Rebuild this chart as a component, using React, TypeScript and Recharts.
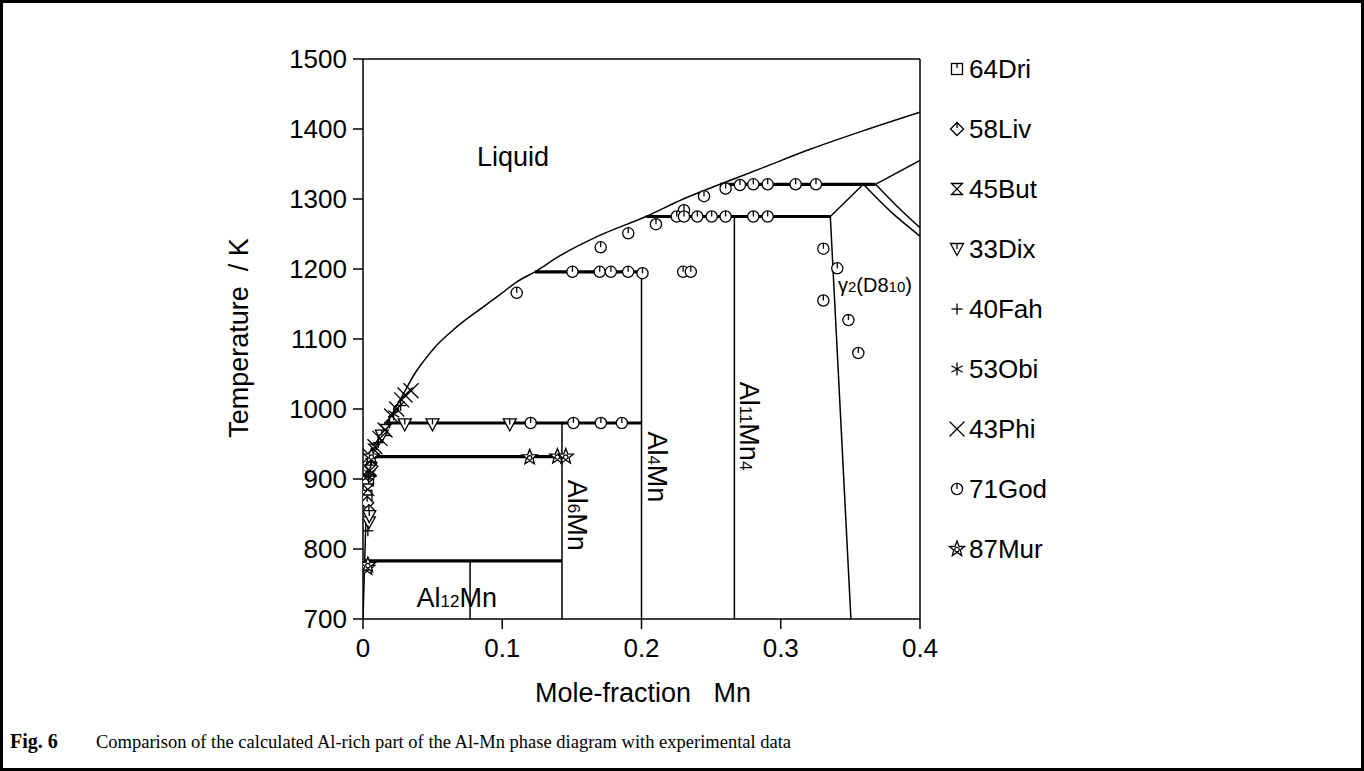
import React from 'react'
import { ComposedChart, Line, Scatter, XAxis, YAxis, ReferenceDot } from 'recharts'

const FONT = '"Liberation Sans", Arial, Helvetica, sans-serif'
const SERIF = '"Liberation Serif", "Times New Roman", serif'

const xTicks = [0, 0.1, 0.2, 0.3, 0.4]
const yTicks = [700, 800, 900, 1000, 1100, 1200, 1300, 1400, 1500]

// calculated phase boundaries (x = mole fraction Mn, t = K)
const liquidus = [
  { x: 0.0036, t: 931 }, { x: 0.0182, t: 983 }, { x: 0.0302, t: 1026 },
  { x: 0.037, t: 1050 }, { x: 0.0434, t: 1068 }, { x: 0.052, t: 1089 },
  { x: 0.0625, t: 1109 }, { x: 0.074, t: 1128 }, { x: 0.0864, t: 1146 },
  { x: 0.1, t: 1166 }, { x: 0.11, t: 1181 }, { x: 0.1235, t: 1196 },
  { x: 0.1415, t: 1219 }, { x: 0.17, t: 1248 }, { x: 0.2032, t: 1275 },
  { x: 0.23, t: 1300 }, { x: 0.2564, t: 1321 }, { x: 0.285, t: 1343 },
  { x: 0.321, t: 1371 }, { x: 0.36, t: 1398 }, { x: 0.4, t: 1424 },
]
const alSolvus = [{ x: 0, t: 700 }, { x: 0.0012, t: 783 }, { x: 0.0035, t: 932 }]
const al12MnLine = [{ x: 0.0769, t: 700 }, { x: 0.0769, t: 783 }]
const al6MnLine = [{ x: 0.1429, t: 700 }, { x: 0.1429, t: 980 }]
const al4MnLine = [{ x: 0.2, t: 700 }, { x: 0.2, t: 1196 }]
const al11Mn4Line = [{ x: 0.2667, t: 700 }, { x: 0.2667, t: 1275 }]
const gamma2Left = [{ x: 0.3504, t: 700 }, { x: 0.3356, t: 1275 }, { x: 0.3593, t: 1321 }]
const gamma2Right = [{ x: 0.3593, t: 1321 }, { x: 0.3784, t: 1283 }, { x: 0.4, t: 1247 }]
const highPhaseLeft = [{ x: 0.368, t: 1321 }, { x: 0.3833, t: 1290 }, { x: 0.4, t: 1259 }]
const highPhaseTop = [{ x: 0.368, t: 1321 }, { x: 0.4, t: 1355 }]

// invariant reactions
const inv783 = [{ x: 0.0012, t: 783 }, { x: 0.1429, t: 783 }]
const inv932 = [{ x: 0.0035, t: 932 }, { x: 0.1429, t: 932 }]
const inv980 = [{ x: 0.0188, t: 980 }, { x: 0.2, t: 980 }]
const inv1196 = [{ x: 0.1235, t: 1196 }, { x: 0.2, t: 1196 }]
const inv1275 = [{ x: 0.2035, t: 1275 }, { x: 0.3356, t: 1275 }]
const inv1321 = [{ x: 0.2564, t: 1321 }, { x: 0.368, t: 1321 }]

// experimental data
const dri64 = [{ x: 0.0025, t: 876 }, { x: 0.0035, t: 898 }]
const liv58 = [{ x: 0.003, t: 866 }, { x: 0.0042, t: 854 }, { x: 0.0048, t: 905 }, { x: 0.006, t: 918 }]
const but45 = [{ x: 0.0035, t: 885 }, { x: 0.005, t: 912 }, { x: 0.008, t: 942 }, { x: 0.016, t: 970 }]
const dix33 = [
  { x: 0.0042, t: 838 }, { x: 0.0045, t: 847 }, { x: 0.0135, t: 962 },
  { x: 0.030, t: 978 }, { x: 0.0499, t: 978 }, { x: 0.1054, t: 978 },
]
const fah40 = [{ x: 0.0035, t: 826 }, { x: 0.006, t: 935 }, { x: 0.011, t: 952 }, { x: 0.019, t: 980 }, { x: 0.027, t: 1005 }]
const obi53 = [{ x: 0.004, t: 903 }, { x: 0.005, t: 908 }, { x: 0.0055, t: 925 }, { x: 0.022, t: 993 }]
const phi43 = [
  { x: 0.005, t: 933 }, { x: 0.0086, t: 946 }, { x: 0.0122, t: 958 },
  { x: 0.0158, t: 970 }, { x: 0.0206, t: 990 }, { x: 0.0242, t: 1000 },
  { x: 0.0278, t: 1013 }, { x: 0.0302, t: 1020 }, { x: 0.0345, t: 1026 },
]
const god71 = [
  { x: 0.1204, t: 980 }, { x: 0.1511, t: 980 }, { x: 0.1708, t: 980 }, { x: 0.1859, t: 980 },
  { x: 0.1104, t: 1166 },
  { x: 0.1504, t: 1196 }, { x: 0.170, t: 1196 }, { x: 0.178, t: 1196 }, { x: 0.1904, t: 1196 },
  { x: 0.2007, t: 1194 }, { x: 0.2299, t: 1196 }, { x: 0.2354, t: 1196 },
  { x: 0.1707, t: 1231 }, { x: 0.1905, t: 1251 }, { x: 0.2104, t: 1264 },
  { x: 0.2305, t: 1284 }, { x: 0.2449, t: 1304 },
  { x: 0.2253, t: 1275 }, { x: 0.2305, t: 1275 }, { x: 0.2401, t: 1275 }, { x: 0.2504, t: 1275 },
  { x: 0.2604, t: 1275 }, { x: 0.2803, t: 1275 }, { x: 0.2906, t: 1275 },
  { x: 0.2604, t: 1315 }, { x: 0.2707, t: 1320 }, { x: 0.2803, t: 1321 }, { x: 0.2906, t: 1321 },
  { x: 0.3107, t: 1321 }, { x: 0.3253, t: 1321 },
  { x: 0.3306, t: 1229 }, { x: 0.3406, t: 1201 }, { x: 0.3306, t: 1155 },
  { x: 0.3486, t: 1127 }, { x: 0.3557, t: 1080 },
]
const mur87 = [
  { x: 0.003, t: 773 }, { x: 0.0035, t: 777 }, { x: 0.006, t: 932 },
  { x: 0.1197, t: 931 }, { x: 0.1396, t: 932 }, { x: 0.1456, t: 932 },
]

const legendNames = ['64Dri', '58Liv', '45But', '33Dix', '40Fah', '53Obi', '43Phi', '71God', '87Mur']
const legendKinds = ['square', 'diamond', 'hourglass', 'triangle', 'plus', 'asterisk', 'cross', 'circle', 'star']

function Marker({ kind, cx, cy }: { kind: string; cx: number; cy: number }) {
  const p = { fill: '#fff', stroke: '#000', strokeWidth: 1.3 }
  const l = { stroke: '#000', strokeWidth: 1.3 }
  switch (kind) {
    case 'square':
      return (
        <g>
          <rect x={cx - 5.5} y={cy - 5.5} width={11} height={11} {...p} />
          <line x1={cx} y1={cy - 5.5} x2={cx} y2={cy - 1} {...l} />
        </g>
      )
    case 'diamond':
      return (
        <g>
          <path d={`M${cx} ${cy - 6.5}L${cx + 6.5} ${cy}L${cx} ${cy + 6.5}L${cx - 6.5} ${cy}Z`} {...p} />
          <line x1={cx} y1={cy - 6.5} x2={cx} y2={cy - 1} {...l} />
        </g>
      )
    case 'hourglass':
      return <path d={`M${cx - 5.5} ${cy - 5.5}H${cx + 5.5}L${cx - 5.5} ${cy + 5.5}H${cx + 5.5}Z`} {...p} />
    case 'triangle':
      return (
        <g>
          <path d={`M${cx - 6.5} ${cy - 5.5}H${cx + 6.5}L${cx} ${cy + 6.5}Z`} {...p} />
          <line x1={cx} y1={cy - 5.5} x2={cx} y2={cy} {...l} />
        </g>
      )
    case 'plus':
      return (
        <g>
          <line x1={cx - 5.5} y1={cy} x2={cx + 5.5} y2={cy} {...l} />
          <line x1={cx} y1={cy - 5.5} x2={cx} y2={cy + 5.5} {...l} />
        </g>
      )
    case 'asterisk':
      return (
        <g>
          <line x1={cx} y1={cy - 6.5} x2={cx} y2={cy + 6.5} {...l} />
          <line x1={cx - 5.6} y1={cy - 3.2} x2={cx + 5.6} y2={cy + 3.2} {...l} />
          <line x1={cx - 5.6} y1={cy + 3.2} x2={cx + 5.6} y2={cy - 3.2} {...l} />
        </g>
      )
    case 'cross':
      return (
        <g>
          <line x1={cx - 7.5} y1={cy - 7.5} x2={cx + 7.5} y2={cy + 7.5} {...l} />
          <line x1={cx - 7.5} y1={cy + 7.5} x2={cx + 7.5} y2={cy - 7.5} {...l} />
        </g>
      )
    case 'circle':
      return (
        <g>
          <circle cx={cx} cy={cy} r={5.6} {...p} />
          <line x1={cx} y1={cy - 5.6} x2={cx} y2={cy} {...l} />
        </g>
      )
    case 'star': {
      const pts: string[] = []
      for (let i = 0; i < 10; i++) {
        const r = i % 2 === 0 ? 8 : 3.4
        const a = -Math.PI / 2 + (i * Math.PI) / 5
        pts.push(`${cx + r * Math.cos(a)},${cy + r * Math.sin(a)}`)
      }
      return (
        <g>
          <polygon points={pts.join(' ')} {...p} />
          <circle cx={cx} cy={cy + 0.5} r={2.2} fill="none" stroke="#000" strokeWidth={1.1} />
        </g>
      )
    }
    default:
      return <g />
  }
}

const thin = { stroke: '#000', strokeWidth: 1.5 }
const thick = { stroke: '#000', strokeWidth: 3.2 }

const boundaryLines: { data: { x: number; t: number }[]; curved?: boolean }[] = [
  { data: liquidus, curved: true },
  { data: alSolvus },
  { data: al12MnLine },
  { data: al6MnLine },
  { data: al4MnLine },
  { data: al11Mn4Line },
  { data: gamma2Left },
  { data: gamma2Right, curved: true },
  { data: highPhaseLeft, curved: true },
  { data: highPhaseTop },
]
const invariantLines = [inv783, inv932, inv980, inv1196, inv1275, inv1321]
const pointSets = [dri64, liv58, but45, dix33, fah40, obi53, phi43, god71, mur87]

function Label({ cx, cy, children, rotate, size = 27 }: any) {
  return (
    <text
      x={cx}
      y={cy}
      fontSize={size}
      fontFamily={FONT}
      fill="#000"
      transform={rotate ? `rotate(90 ${cx} ${cy})` : undefined}
    >
      {children}
    </text>
  )
}

export default function App() {
  const sub = { fontSize: 17 }
  return (
    <div style={{ position: 'absolute', left: 0, top: 0, width: 1364, height: 771, background: '#fff' }}>
      <div style={{ position: 'absolute', left: 0, top: 0 }}>
        <ComposedChart width={1364} height={771} margin={{ top: 39, right: 424, bottom: 112, left: 283 }}>
          <XAxis
            xAxisId={0}
            type="number"
            dataKey="x"
            domain={[0, 0.4]}
            ticks={xTicks}
            allowDataOverflow
            stroke="#000"
            strokeWidth={1.5}
            tickSize={10}
            tickMargin={10}
            height={40}
            tick={{ fontSize: 26, fill: '#000', fontFamily: FONT }}
          />
          <XAxis
            xAxisId="top"
            orientation="top"
            type="number"
            domain={[0, 0.4]}
            ticks={xTicks}
            allowDataOverflow
            stroke="#000"
            strokeWidth={1.5}
            tickSize={10}
            height={20}
            tick={false}
          />
          <YAxis
            yAxisId={0}
            type="number"
            dataKey="t"
            domain={[700, 1500]}
            ticks={yTicks}
            allowDataOverflow
            stroke="#000"
            strokeWidth={1.5}
            tickSize={10}
            tickMargin={6}
            width={80}
            tick={{ fontSize: 26, fill: '#000', fontFamily: FONT }}
          />
          <YAxis
            yAxisId="right"
            orientation="right"
            type="number"
            domain={[700, 1500]}
            ticks={yTicks}
            allowDataOverflow
            stroke="#000"
            strokeWidth={1.5}
            tickSize={10}
            width={20}
            tick={false}
          />
          {boundaryLines.map((b, i) => (
            <Line
              key={'b' + i}
              data={b.data}
              dataKey="t"
              type={b.curved ? 'monotone' : 'linear'}
              dot={false}
              activeDot={false}
              {...thin}
              isAnimationActive={false}
            />
          ))}
          {invariantLines.map((d, i) => (
            <Line
              key={'i' + i}
              data={d}
              dataKey="t"
              type="linear"
              dot={false}
              activeDot={false}
              {...thick}
              isAnimationActive={false}
            />
          ))}
          {pointSets.map((d, i) => (
            <Scatter
              key={'s' + i}
              name={legendNames[i]}
              data={d}
              isAnimationActive={false}
              shape={(p: any) => <Marker kind={legendKinds[i]} cx={p.cx} cy={p.cy} />}
            />
          ))}
          <ReferenceDot x={0.1084} y={1347} r={0} shape={(p: any) => <Label cx={p.cx - 37} cy={p.cy}>Liquid</Label>} />
          <ReferenceDot
            x={0.0384}
            y={717}
            r={0}
            shape={(p: any) => (
              <Label cx={p.cx} cy={p.cy}>
                Al<tspan style={sub}>12</tspan>Mn
              </Label>
            )}
          />
          <ReferenceDot
            x={0.1472}
            y={899}
            r={0}
            shape={(p: any) => (
              <Label cx={p.cx} cy={p.cy} rotate>
                Al<tspan style={sub}>6</tspan>Mn
              </Label>
            )}
          />
          <ReferenceDot
            x={0.2047}
            y={968}
            r={0}
            shape={(p: any) => (
              <Label cx={p.cx} cy={p.cy} rotate>
                Al<tspan style={sub}>4</tspan>Mn
              </Label>
            )}
          />
          <ReferenceDot
            x={0.2707}
            y={1039}
            r={0}
            shape={(p: any) => (
              <Label cx={p.cx} cy={p.cy} rotate>
                Al<tspan style={sub}>11</tspan>Mn<tspan style={sub}>4</tspan>
              </Label>
            )}
          />
          <ReferenceDot
            x={0.3411}
            y={1167}
            r={0}
            shape={(p: any) => (
              <Label cx={p.cx} cy={p.cy} size={20}>
                γ<tspan style={{ fontSize: 15 }}>2</tspan>(D8<tspan style={{ fontSize: 15 }}>10</tspan>)
              </Label>
            )}
          />
        </ComposedChart>
      </div>
      <svg width={1364} height={771} style={{ position: 'absolute', left: 0, top: 0, pointerEvents: 'none' }}>
        <rect x={1.5} y={1.5} width={1361} height={768} fill="none" stroke="#000" strokeWidth={3} />
        <text
          transform="translate(248 338) rotate(-90)"
          textAnchor="middle"
          fontSize={27}
          fontFamily={FONT}
          style={{ whiteSpace: 'pre' }}
        >
          {'Temperature  / K'}
        </text>
        <text x={643} y={702} textAnchor="middle" fontSize={27} fontFamily={FONT} style={{ whiteSpace: 'pre' }}>
          {'Mole-fraction   Mn'}
        </text>
        {legendNames.map((n, i) => (
          <g key={n}>
            <Marker kind={legendKinds[i]} cx={957} cy={69 + 60 * i} />
            <text x={969} y={78 + 60 * i} fontSize={26} fontFamily={FONT}>
              {n}
            </text>
          </g>
        ))}
        <text x={10} y={748} fontSize={20} fontWeight="bold" fontFamily={SERIF}>
          Fig. 6
        </text>
        <text x={96} y={748} fontSize={18.5} fontFamily={SERIF}>
          Comparison of the calculated Al-rich part of the Al-Mn phase diagram with experimental data
        </text>
      </svg>
    </div>
  )
}
